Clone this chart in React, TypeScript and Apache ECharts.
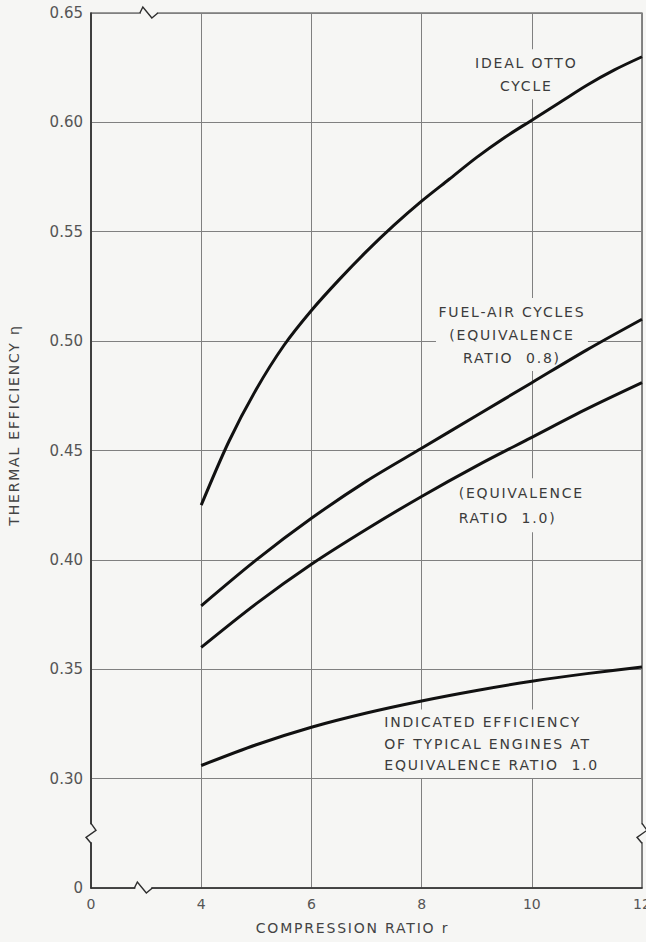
import React, { useEffect, useRef } from 'react';
import * as echarts from 'echarts';

// ---- data ----
const ottoRatio = [4, 4.5, 5, 5.5, 6, 6.5, 7, 7.5, 8, 8.5, 9, 9.5, 10, 10.5, 11, 11.5, 12];
const idealOtto = [0.425, 0.454, 0.478, 0.498, 0.514, 0.528, 0.541, 0.553, 0.564, 0.574, 0.584, 0.593, 0.601, 0.609, 0.617, 0.624, 0.630];

const fuelAirRatio = [4, 5, 6, 7, 8, 9, 10, 11, 12];
const fuelAir08 = [0.379, 0.400, 0.419, 0.436, 0.451, 0.466, 0.481, 0.496, 0.510];
const fuelAir10 = [0.360, 0.380, 0.398, 0.414, 0.429, 0.443, 0.456, 0.469, 0.481];

const indicatedRatio = [4, 5, 6, 7, 8, 9, 10, 11, 12];
const indicated = [0.306, 0.3155, 0.3235, 0.330, 0.3355, 0.3403, 0.3445, 0.348, 0.351];

// broken axes: the first tick of each axis stands for zero
const xAxisMin = 2;
const xAxisMax = 12;
const xAxisStep = 2;
const yAxisMin = 0.25;
const yAxisMax = 0.65;
const yAxisStep = 0.05;
const xZeroLabel = '0';
const yZeroLabel = '0';

const xAxisTitle = 'COMPRESSION RATIO r';
const yAxisTitle = 'THERMAL EFFICIENCY η';

const annotations = [
  { text: 'IDEAL OTTO\nCYCLE', at: [9.9, 0.622], align: 'center', lineHeight: 23 },
  { text: 'FUEL-AIR CYCLES\n(EQUIVALENCE\nRATIO  0.8)', at: [9.64, 0.503], align: 'center', lineHeight: 23 },
  { text: '(EQUIVALENCE\nRATIO  1.0)', at: [8.6, 0.425], align: 'left', lineHeight: 25 },
  { text: 'INDICATED EFFICIENCY\nOF TYPICAL ENGINES AT\nEQUIVALENCE RATIO  1.0', at: [7.25, 0.316], align: 'left', lineHeight: 21.5 },
];

// axis-break positions (data units)
const topBreakX = 3.05;
const bottomBreakX = 2.95;
const sideBreakY = 0.275;

const BG = '#f6f6f4';
const INK = '#3a3a3a';
const FONT = 'DejaVu Sans';
const SPACED_FONT = 'DejaVu Sans, spc';

const pairs = (xs: number[], ys: number[]) => xs.map((x, i) => [x, ys[i]]);

export default function App() {
  const ref = useRef<HTMLDivElement>(null);

  useEffect(() => {
    document.body.style.margin = '0';
    document.body.style.background = BG;
    const el = ref.current!;
    const chart = echarts.init(el, null, { renderer: 'svg', width: 646, height: 942 });

    const lineSeries = (name: string, data: number[][]) => ({
      name,
      type: 'line',
      data,
      smooth: 0.3,
      showSymbol: false,
      symbol: 'none',
      lineStyle: { color: '#111', width: 3 },
      z: 3,
    });

    chart.setOption({
      animation: false,
      backgroundColor: BG,
      grid: {
        left: 91,
        right: 4,
        top: 13,
        bottom: 54,
        show: true,
        borderColor: INK,
        borderWidth: 1.2,
        backgroundColor: 'transparent',
        containLabel: false,
        outerBoundsMode: 'none',
      },
      xAxis: {
        type: 'value',
        min: xAxisMin,
        max: xAxisMax,
        interval: xAxisStep,
        axisLine: { show: true, onZero: false, lineStyle: { color: '#2e2e2e', width: 1.6 } },
        axisTick: { show: false },
        splitLine: { show: true, lineStyle: { color: '#808080', width: 1 } },
        axisLabel: {
          color: '#555',
          fontSize: 14,
          fontFamily: FONT,
          margin: 9,
          formatter: (v: number) => (Math.abs(v - xAxisMin) < 1e-9 ? xZeroLabel : String(v)),
        },
      },
      yAxis: {
        type: 'value',
        min: yAxisMin,
        max: yAxisMax,
        interval: yAxisStep,
        axisLine: { show: true, onZero: false, lineStyle: { color: '#2e2e2e', width: 1.6 } },
        axisTick: { show: false },
        splitLine: { show: true, lineStyle: { color: '#808080', width: 1 } },
        axisLabel: {
          color: '#555',
          fontSize: 15,
          fontFamily: FONT,
          margin: 8,
          formatter: (v: number) => (Math.abs(v - yAxisMin) < 1e-9 ? yZeroLabel : v.toFixed(2)),
        },
      },
      series: [
        lineSeries('Ideal Otto cycle', pairs(ottoRatio, idealOtto)),
        lineSeries('Fuel-air 0.8', pairs(fuelAirRatio, fuelAir08)),
        lineSeries('Fuel-air 1.0', pairs(fuelAirRatio, fuelAir10)),
        lineSeries('Indicated', pairs(indicatedRatio, indicated)),
      ],
    });

    const px = (p: number[]) => chart.convertToPixel({ gridIndex: 0 }, p) as number[];
    const graphics: any[] = [];

    annotations.forEach((a) => {
      const [x, y] = px(a.at);
      graphics.push({
        type: 'text',
        x,
        y,
        z: 1,
        style: {
          text: a.text,
          fontSize: 14,
          fontFamily: SPACED_FONT,
          fill: '#3c3c3c',
          align: a.align,
          verticalAlign: 'middle',
          lineHeight: a.lineHeight,
          backgroundColor: BG,
          padding: a.align === 'center' ? [2, 16] : [2, 34, 2, 4],
        },
      });
    });

    const [gx0, gy0] = px([xAxisMin, yAxisMin]);
    const [gx1, gy1] = px([xAxisMax, yAxisMax]);

    const hBreak = (cx: number, y: number) => {
      graphics.push({ type: 'rect', z: 20, shape: { x: cx - 8, y: y - 3, width: 16, height: 6 }, style: { fill: BG } });
      graphics.push({
        type: 'polyline', z: 21,
        shape: { points: [[cx - 9, y], [cx - 6, y - 6], [cx + 3, y + 5], [cx + 9, y]] },
        style: { stroke: '#2e2e2e', lineWidth: 1.4, fill: null },
      });
    };
    const vBreak = (x: number, cy: number, dir: number) => {
      graphics.push({ type: 'rect', z: 20, shape: { x: x - 3, y: cy - 9, width: 6, height: 18 }, style: { fill: BG } });
      graphics.push({
        type: 'polyline', z: 21,
        shape: { points: [[x, cy - 10], [x + 5 * dir, cy - 3], [x - 5 * dir, cy + 4], [x, cy + 10]] },
        style: { stroke: '#2e2e2e', lineWidth: 1.4, fill: null },
      });
    };
    hBreak(px([topBreakX, yAxisMax])[0], gy1);
    hBreak(px([bottomBreakX, yAxisMin])[0], gy0);
    vBreak(gx0, px([xAxisMin, sideBreakY])[1], 1);
    vBreak(gx1, px([xAxisMax, sideBreakY])[1], 1);

    graphics.push({
      type: 'text',
      x: (gx0 + gx1) / 2 - 14,
      y: 928,
      z: 5,
      style: { text: xAxisTitle, fontSize: 14, fontFamily: SPACED_FONT, fill: '#444', align: 'center', verticalAlign: 'middle' },
    });
    graphics.push({
      type: 'text',
      x: 14,
      y: 425,
      rotation: Math.PI / 2,
      z: 5,
      style: { text: yAxisTitle, fontSize: 14, fontFamily: SPACED_FONT, fill: '#444', align: 'center', verticalAlign: 'middle' },
    });

    chart.setOption({ graphic: graphics });

    return () => chart.dispose();
  }, []);

  return (
    <>
      <style>{`#chart-box text[style*="spc"]{letter-spacing:1.8px;}`}</style>
      <div
        id="chart-box"
        ref={ref}
        style={{ position: 'absolute', left: 0, top: 0, width: 646, height: 942, background: BG }}
      />
    </>
  );
}
